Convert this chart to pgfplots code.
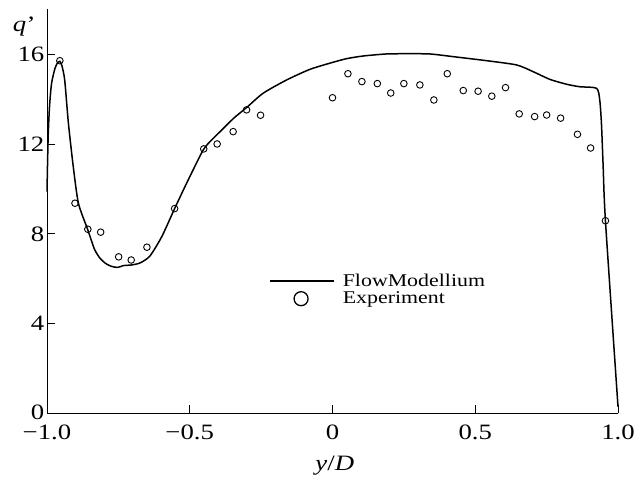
\documentclass[border=0pt]{standalone}
\usepackage{pgfplots}
\pgfplotsset{compat=1.18}
\usepackage{fontspec}
\setmainfont{Liberation Serif}[FakeStretch=1.22]

% simulated profile (solid line)
\pgfplotstableread{
x y
-1.000 9.88
-0.996 12.30
-0.991 13.70
-0.984 14.70
-0.972 15.37
-0.962 15.64
-0.955 15.68
-0.948 15.50
-0.938 14.85
-0.925 12.92
-0.908 10.99
-0.890 9.36
-0.857 8.17
-0.834 7.32
-0.815 6.92
-0.795 6.68
-0.775 6.55
-0.752 6.50
-0.733 6.58
-0.703 6.61
-0.674 6.70
-0.640 7.00
-0.598 7.87
-0.553 9.12
-0.511 10.25
-0.453 11.73
-0.420 12.22
-0.388 12.62
-0.345 13.16
-0.301 13.62
-0.243 14.26
-0.161 14.85
-0.080 15.32
-0.009 15.60
0.049 15.80
0.108 15.92
0.189 16.01
0.260 16.02
0.341 16.01
0.423 15.89
0.540 15.71
0.645 15.52
0.703 15.22
0.761 14.88
0.820 14.66
0.866 14.55
0.925 14.48
0.936 13.96
0.942 12.92
0.948 11.00
0.956 8.58
1.000 0.30
}\modeldata

% measured values (circles)
\pgfplotstableread{
x y
-0.955 15.71
-0.902 9.36
-0.857 8.20
-0.812 8.07
-0.749 6.97
-0.705 6.83
-0.650 7.40
-0.553 9.12
-0.451 11.78
-0.404 12.00
-0.348 12.55
-0.301 13.52
-0.252 13.28
0.000 14.06
0.054 15.13
0.103 14.78
0.157 14.69
0.204 14.27
0.250 14.69
0.306 14.63
0.355 13.96
0.402 15.13
0.458 14.38
0.510 14.35
0.558 14.13
0.606 14.51
0.654 13.34
0.708 13.22
0.750 13.29
0.799 13.15
0.858 12.43
0.904 11.82
0.956 8.58
}\expdata

\begin{document}
\begin{tikzpicture}
\useasboundingbox (-47bp,-71.7bp) rectangle (587bp,413.3bp);
\begin{axis}[
  scale only axis,
  width=571bp, height=404bp,
  xmin=-1, xmax=1, ymin=0, ymax=18,
  axis lines=left,
  axis line style={-, line width=0.9bp},
  tick align=inside,
  major tick length=8bp,
  tick style={line width=0.9bp, black},
  xtick={-1,-0.5,0,0.5,1},
  xticklabels={−1.0,−0.5,0,0.5,1.0},
  ytick={0,4,8,12,16},
  yticklabels={\raisebox{2bp}{0}\hspace{3bp},4\hspace{2bp},8,12,16},
  tick label style={font=\fontsize{22}{24}\selectfont},
  yticklabel style={inner sep=0pt, xshift=-2.5bp, text depth=0pt},
  xticklabel style={inner sep=0pt, yshift=-11bp},
  xlabel={\textit{y}/\textit{D}},
  every axis x label/.style={at={(axis description cs:0.504,-0.13)}, anchor=center, font=\fontsize{22}{24}\selectfont},
  ylabel={\textit{q}\kern0.5bp'},
  every axis y label/.style={at={(axis description cs:-0.040,0.958)}, anchor=center, font=\fontsize{22}{24}\selectfont},
  legend style={at={(axis description cs:0.389,0.350)}, anchor=north west,
    draw=none, fill=none, inner sep=0pt, row sep=0bp,
    font=\fontsize{18}{18}\selectfont,
    /tikz/every odd column/.append style={column sep=6bp}},
  legend cell align=left,
  clip=false,
]
\addplot[black, line width=1.5bp, smooth, tension=0.4,
  legend image code/.code={\draw[black, line width=1.5bp] (0bp,0bp) -- (64bp,0bp);}]
  table[x=x, y=y] {\modeldata};
\addlegendentry{FlowModellium}
\addplot[only marks, mark=o, mark size=3.3bp, black, mark options={line width=0.9bp},
  legend image code/.code={\draw[black, line width=1.3bp] (31bp,0bp) circle (7bp);}]
  table[x=x, y=y] {\expdata};
\addlegendentry{Experiment}
\end{axis}
\end{tikzpicture}
\end{document}
